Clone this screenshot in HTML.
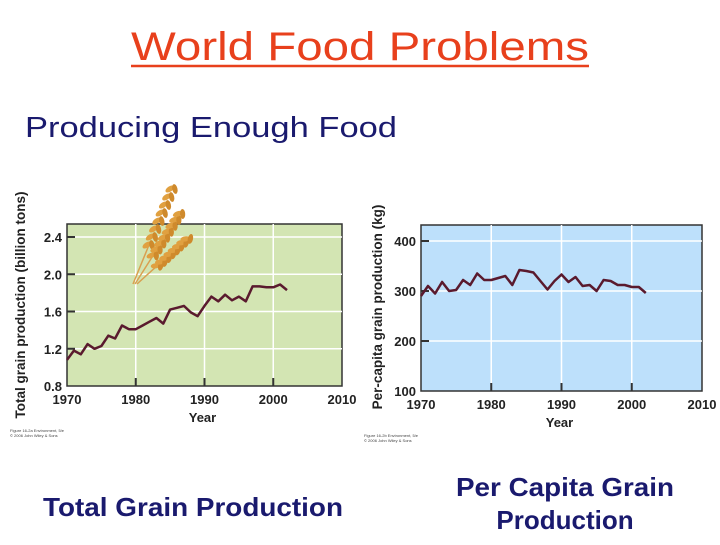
<!DOCTYPE html>
<html><head><meta charset="utf-8"><style>
body{margin:0;width:720px;height:540px;background:#fff;overflow:hidden;font-family:"Liberation Sans",sans-serif}
</style></head><body>
<svg id="s" width="720" height="540" xmlns="http://www.w3.org/2000/svg" font-family="Liberation Sans, sans-serif">
<text x="131" y="60" font-size="40" fill="#e8401c" textLength="458" lengthAdjust="spacingAndGlyphs">World Food Problems</text>
<line x1="131" y1="66" x2="589" y2="66" stroke="#e8401c" stroke-width="2.5"/>
<text x="25" y="137" font-size="29" fill="#1a1a6e" textLength="372" lengthAdjust="spacingAndGlyphs">Producing Enough Food</text>
<text x="43" y="516" font-size="26" font-weight="bold" fill="#1a1a6e" textLength="300" lengthAdjust="spacingAndGlyphs">Total Grain Production</text>
<text x="456" y="496" font-size="26" font-weight="bold" fill="#1a1a6e" textLength="218" lengthAdjust="spacingAndGlyphs">Per Capita Grain</text>
<text x="565" y="529" text-anchor="middle" font-size="26" font-weight="bold" fill="#1a1a6e">Production</text>
<g id="c1"></g><g id="c2"></g>
<g id="wheat"></g>
</svg>
<script>
const years=[];for(let y=1970;y<=2002;y++)years.push(y);
const totalGrain=[1.08,1.18,1.14,1.25,1.20,1.23,1.34,1.31,1.45,1.41,1.41,1.45,1.49,1.53,1.47,1.62,1.64,1.66,1.59,1.55,1.66,1.76,1.71,1.78,1.72,1.76,1.71,1.87,1.87,1.86,1.86,1.89,1.83];
const perCapita=[290,310,295,318,300,302,322,312,335,322,322,326,330,312,342,340,337,320,303,320,333,318,328,310,312,300,322,320,312,312,308,308,296];
const xTicks=[1970,1980,1990,2000,2010];
const yTicks1=[0.8,1.2,1.6,2.0,2.4];
const yTicks2=[100,200,300,400];
const NS="http://www.w3.org/2000/svg";
function mk(p,t,a,txt){const e=document.createElementNS(NS,t);for(const k in a)e.setAttribute(k,a[k]);if(txt!=null)e.textContent=txt;p.appendChild(e);return e;}
function chart(g,cfg){
 const xs=v=>cfg.x0+(v-1970)/40*(cfg.x1-cfg.x0);
 const ys=v=>cfg.yb-(v-cfg.vmin)/(cfg.vmax-cfg.vmin)*(cfg.yb-cfg.yt);
 const bg=mk(g,'rect',{x:cfg.x0,y:cfg.top,width:cfg.x1-cfg.x0,height:cfg.yb-cfg.top,fill:cfg.bg,stroke:'#333','stroke-width':1.5});
 
 cfg.yt2.forEach(v=>{if(v>cfg.vmin){const l=mk(g,'line',{x1:cfg.x0,x2:cfg.x1,y1:ys(v),y2:ys(v),stroke:'#fff','stroke-width':1.5});
  
  const t=mk(g,'line',{x1:cfg.x0,x2:cfg.x0+8,y1:ys(v),y2:ys(v),stroke:'#333','stroke-width':2});
  }
  const lb=mk(g,'text',{x:cfg.x0-5,y:ys(v)+5,'text-anchor':'end','font-size':13,'font-weight':'bold',fill:'#222'},cfg.fmt(v));
  });
 xTicks.forEach(v=>{if(v>1970&&v<2010){const l=mk(g,'line',{x1:xs(v),x2:xs(v),y1:cfg.top,y2:cfg.yb,stroke:'#fff','stroke-width':1.5});
  
  const t=mk(g,'line',{x1:xs(v),x2:xs(v),y1:cfg.yb-8,y2:cfg.yb,stroke:'#333','stroke-width':2});
  }
  const lb=mk(g,'text',{x:xs(v),y:cfg.yb+18,'text-anchor':'middle','font-size':13,'font-weight':'bold',fill:'#222'},String(v));
  });
 const d=cfg.data.map((v,i)=>(i?'L':'M')+xs(years[i]).toFixed(1)+','+ys(v).toFixed(1)).join('');
 const p=mk(g,'path',{d:d,fill:'none',stroke:'#5a1a2e','stroke-width':2.5,'stroke-linejoin':'round'});
 
 const xt=mk(g,'text',{x:(cfg.x0+cfg.x1)/2-2,y:cfg.yb+36,'text-anchor':'middle','font-size':13,'font-weight':'bold',fill:'#222'},'Year');
 
 const yt=mk(g,'text',{x:0,y:0,transform:`translate(${cfg.ytx},${cfg.yty}) rotate(-90)`,'text-anchor':'middle','font-size':13.5,'font-weight':'bold',fill:'#222'},cfg.ytitle);
 
 const c1=mk(g,'text',{x:cfg.x0-57,y:cfg.yb+46,'font-size':4,fill:'#444'},cfg.note);
 
 const c2=mk(g,'text',{x:cfg.x0-57,y:cfg.yb+51,'font-size':4,fill:'#444'},'© 2006 John Wiley & Sons');
 
}
chart(document.getElementById('c1'),{x0:67,x1:342,top:224,yb:386,vmin:0.8,vmax:2.4,yt:237,bg:'#d3e5b3',data:totalGrain,yt2:yTicks1,fmt:v=>v.toFixed(1),ytx:25,yty:305,ytitle:'Total grain production (billion tons)',note:'Figure 16-2a Environment, 5/e'});
chart(document.getElementById('c2'),{x0:421,x1:702,top:225,yb:391,vmin:100,vmax:400,yt:241,bg:'#bde0fb',data:perCapita,yt2:yTicks2,fmt:v=>String(v),ytx:382,yty:307,ytitle:'Per-capita grain production (kg)',note:'Figure 16-2b Environment, 5/e'});
const w=document.getElementById('wheat');
[[133,284,174,184],[135,284,182,210],[137,284,190,236]].forEach(s=>{
 const [bx,by,tx,ty]=s;
 mk(w,'line',{x1:bx,y1:by,x2:bx+(tx-bx)*0.4,y2:by+(ty-by)*0.4,stroke:'#d9a050','stroke-width':1.5});
 const ang=Math.atan2(ty-by,tx-bx)*180/Math.PI;
 for(let k=0;k<8;k++){const f=0.4+k*0.08;const cx=bx+(tx-bx)*f,cy=by+(ty-by)*f;
  mk(w,'ellipse',{cx:cx-2.5,cy:cy+1,rx:5,ry:2.6,fill:'#e0a040',transform:`rotate(${ang+35} ${cx-2.5} ${cy+1})`});
  mk(w,'ellipse',{cx:cx+2.5,cy:cy+1,rx:5,ry:2.6,fill:'#cf8a2c',transform:`rotate(${ang-35} ${cx+2.5} ${cy+1})`});}
});
</script>
</body></html>
